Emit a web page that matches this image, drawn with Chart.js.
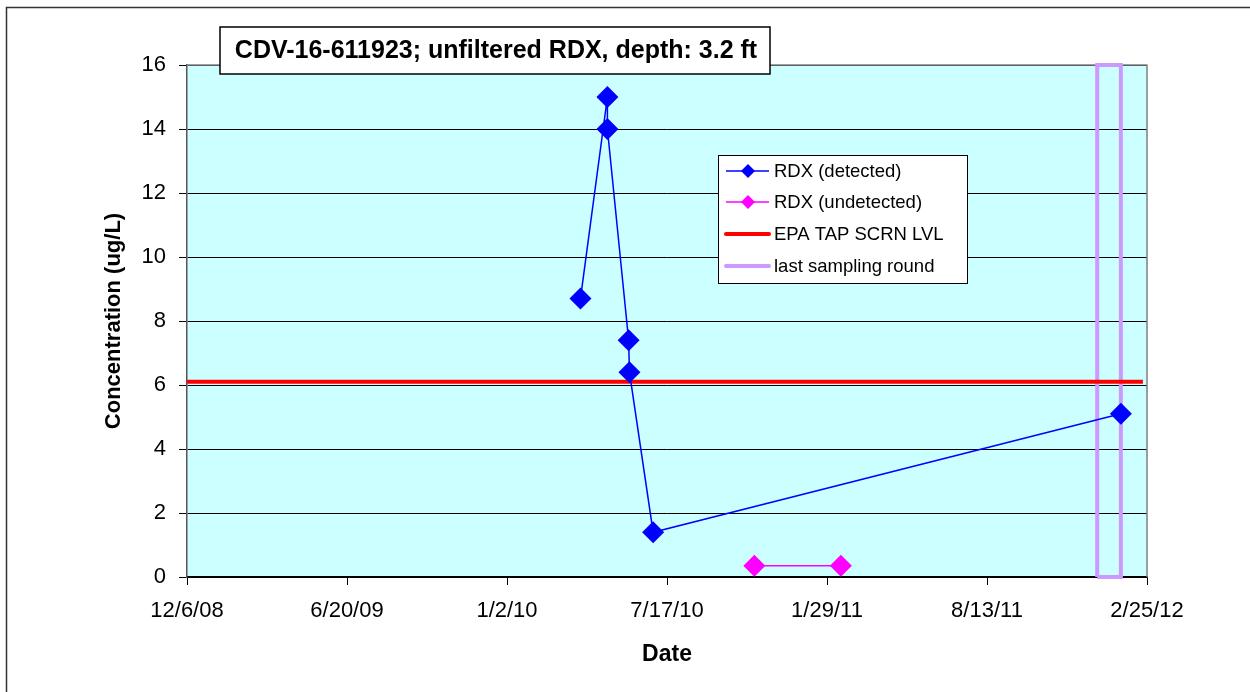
<!DOCTYPE html>
<html>
<head>
<meta charset="utf-8">
<script src="https://cdn.jsdelivr.net/npm/chart.js@4.4.0/dist/chart.umd.min.js"></script>
<style>
  html, body { margin:0; padding:0; background:#fff; }
  canvas { display:block; }
</style>
</head>
<body>
<canvas id="chart" width="1250" height="692"></canvas>
<script>
// ── Data ────────────────────────────────────────────────────
const detectedDates    = ['4/2/10','5/5/10','5/5/10','5/31/10','6/1/10','6/30/10','1/24/12'];
const detectedValues   = [8.7, 15, 14, 7.4, 6.4, 1.4, 5.1];
const undetectedDates  = ['11/1/10','2/15/11'];
const undetectedValues = [0.35, 0.35];
const epaDates         = ['12/6/08','2/20/12'];
const epaValues        = [6.1, 6.1];
const lastRoundDates   = ['12/26/11','12/26/11','1/24/12','1/24/12','12/26/11'];
const lastRoundValues  = [0, 16, 16, 0, 0];
const xTickLabels      = ['12/6/08','6/20/09','1/2/10','7/17/10','1/29/11','8/13/11','2/25/12'];
const yTicks           = [0, 2, 4, 6, 8, 10, 12, 14, 16];

const FONT = "'Liberation Sans', Arial, sans-serif";
const DAY = 86400000;

// m/d/yy -> day number
function toDay(s) {
  const [m, d, y] = s.split('/').map(Number);
  return Date.UTC(2000 + y, m - 1, d) / DAY;
}
function fmtDay(v) {
  const dt = new Date(Math.round(v) * DAY);
  return (dt.getUTCMonth() + 1) + '/' + dt.getUTCDate() + '/' + String(dt.getUTCFullYear() % 100).padStart(2, '0');
}
function pts(dates, values) {
  return dates.map((d, i) => ({ x: toDay(d), y: values[i] }));
}

// ── Background, plot frame, title box and legend ───────────
const framePlugin = {
  id: 'frame',
  beforeDraw(chart) {
    const { ctx, chartArea: a } = chart;
    ctx.save();
    ctx.fillStyle = '#fff';
    ctx.fillRect(0, 0, chart.width, chart.height);
    ctx.strokeStyle = '#333';
    ctx.lineWidth = 1.5;
    ctx.beginPath();
    ctx.moveTo(6.5, chart.height); ctx.lineTo(6.5, 7.5); ctx.lineTo(chart.width, 7.5);
    ctx.stroke();
    ctx.fillStyle = '#CCFFFF';
    ctx.fillRect(a.left, a.top, a.right - a.left, a.bottom - a.top);
    ctx.restore();
  },
  beforeDatasetsDraw(chart) {
    const { ctx, chartArea: a } = chart;
    ctx.save();
    ctx.strokeStyle = '#808080';
    ctx.lineWidth = 1.5;
    ctx.beginPath();
    ctx.moveTo(a.left, a.top); ctx.lineTo(a.right, a.top); ctx.lineTo(a.right, a.bottom);
    ctx.stroke();
    ctx.restore();
  },
  afterDraw(chart) {
    const ctx = chart.ctx;
    ctx.save();
    // title box
    ctx.fillStyle = '#fff';
    ctx.fillRect(220, 27, 550, 47);
    ctx.strokeStyle = '#000';
    ctx.lineWidth = 1.5;
    ctx.strokeRect(220, 27, 550, 47);
    ctx.fillStyle = '#000';
    ctx.font = 'bold 25px ' + FONT;
    ctx.textAlign = 'center';
    ctx.textBaseline = 'middle';
    ctx.fillText('CDV-16-611923; unfiltered RDX, depth: 3.2 ft', 496, 51);

    // legend box
    ctx.fillStyle = '#fff';
    ctx.fillRect(718, 155, 249, 128);
    ctx.lineWidth = 1;
    ctx.strokeStyle = '#000';
    ctx.strokeRect(718.5, 155.5, 249, 128);
    const rows = [171, 202, 234, 266];
    ctx.font = '18.5px ' + FONT;
    ctx.textAlign = 'left';
    chart.data.datasets.forEach((ds, i) => {
      const y = rows[i];
      ctx.strokeStyle = ds.borderColor;
      ctx.lineWidth = ds.borderWidth;
      ctx.lineCap = ds.borderWidth > 2 ? 'round' : 'butt';
      ctx.beginPath(); ctx.moveTo(726, y); ctx.lineTo(769, y); ctx.stroke();
      if (ds.pointRadius > 0) {
        ctx.fillStyle = ds.backgroundColor;
        ctx.beginPath();
        ctx.moveTo(741, y); ctx.lineTo(748, y - 7); ctx.lineTo(755, y); ctx.lineTo(748, y + 7);
        ctx.closePath(); ctx.fill();
      }
      ctx.fillStyle = '#000';
      ctx.fillText(ds.label, 774, y + 1);
    });
    ctx.restore();
  }
};

new Chart(document.getElementById('chart').getContext('2d'), {
  type: 'scatter',
  data: {
    datasets: [
      { label: 'RDX (detected)', data: pts(detectedDates, detectedValues), showLine: true,
        borderColor: '#0000FF', backgroundColor: '#0000FF', borderWidth: 1.5,
        pointStyle: 'rectRot', pointRadius: 11, pointBorderWidth: 0 },
      { label: 'RDX (undetected)', data: pts(undetectedDates, undetectedValues), showLine: true,
        borderColor: '#FF00FF', backgroundColor: '#FF00FF', borderWidth: 1.5,
        pointStyle: 'rectRot', pointRadius: 11, pointBorderWidth: 0 },
      { label: 'EPA TAP SCRN LVL', data: pts(epaDates, epaValues), showLine: true,
        borderColor: '#FF0000', backgroundColor: '#FF0000', borderWidth: 4, pointRadius: 0 },
      { label: 'last sampling round', data: pts(lastRoundDates, lastRoundValues), showLine: true,
        borderColor: '#CC99FF', backgroundColor: '#CC99FF', borderWidth: 4, pointRadius: 0,
        borderJoinStyle: 'miter', clip: false }
    ]
  },
  options: {
    responsive: false,
    animation: false,
    events: [],
    layout: { padding: { top: 65, right: 103, left: 0, bottom: 0 } },
    plugins: { legend: { display: false }, tooltip: { enabled: false } },
    scales: {
      x: {
        type: 'linear',
        min: toDay(xTickLabels[0]),
        max: toDay(xTickLabels[xTickLabels.length - 1]),
        afterBuildTicks: s => { s.ticks = xTickLabels.map(l => ({ value: toDay(l) })); },
        afterFit: s => { s.height = 115; },
        ticks: { callback: v => fmtDay(v), color: '#000', font: { family: FONT, size: 22 }, padding: 13, maxRotation: 0, autoSkip: false },
        grid: { drawOnChartArea: false, tickColor: '#000', tickLength: 8 },
        border: { color: '#000', width: 1.5 },
        title: { display: true, text: 'Date', color: '#000', font: { family: FONT, size: 23, weight: 'bold' }, padding: { top: 0, bottom: 24 } }
      },
      y: {
        min: 0,
        max: 16,
        afterBuildTicks: s => { s.ticks = yTicks.map(v => ({ value: v })); },
        afterFit: s => { s.width = 187; },
        ticks: { color: '#000', font: { family: FONT, size: 22 }, padding: 13 },
        grid: { color: '#000', lineWidth: 1, tickColor: '#000', tickLength: 8 },
        border: { color: '#555', width: 1.5 },
        title: { display: true, text: 'Concentration (ug/L)', color: '#000', font: { family: FONT, size: 22, weight: 'bold' }, padding: { top: 101, bottom: 0 } }
      }
    }
  },
  plugins: [framePlugin]
});
</script>
</body>
</html>
